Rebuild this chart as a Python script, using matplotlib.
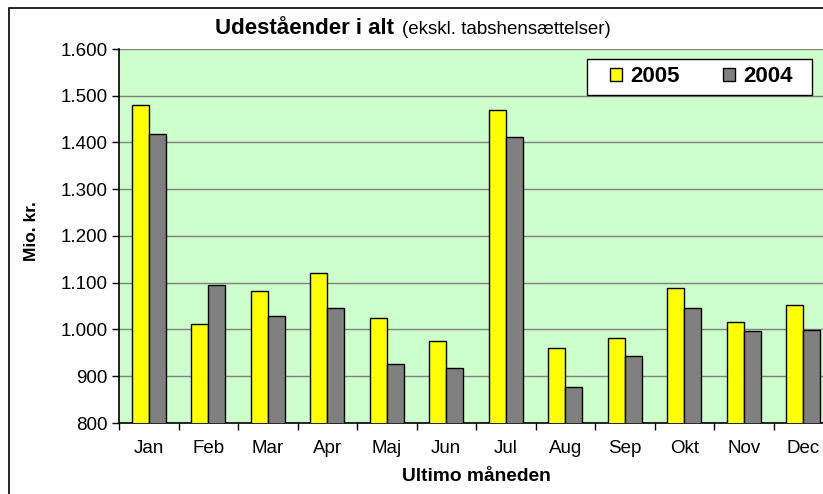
import matplotlib.pyplot as plt
import numpy as np
from matplotlib.patches import Rectangle
from matplotlib.ticker import FuncFormatter

plt.rcParams['font.family'] = ['Liberation Sans', 'DejaVu Sans']

months = ["Jan", "Feb", "Mar", "Apr", "Maj", "Jun", "Jul", "Aug", "Sep", "Okt", "Nov", "Dec"]
values_2005 = [1480, 1012, 1082, 1120, 1025, 975, 1470, 961, 982, 1089, 1015, 1053]
values_2004 = [1418, 1096, 1028, 1045, 926, 918, 1411, 878, 943, 1047, 997, 999]
yticks = [800, 900, 1000, 1100, 1200, 1300, 1400, 1500, 1600]

W, H = 823, 494
fig = plt.figure(figsize=(W / 100, H / 100), dpi=100)

# outer chart frame (runs off the right and bottom edge)
fig.patches.append(Rectangle((9 / W, -0.1), 1.2, 1 - 8 / H + 0.1, transform=fig.transFigure,
                             fill=False, edgecolor='black', linewidth=1.2))

left, right, top, bottom = 119, 833, 49, 423
ax = fig.add_axes([left / W, 1 - bottom / H, (right - left) / W, (bottom - top) / H])
ax.set_facecolor('#ccffcc')

x = np.arange(len(months))
bw = 0.285
ax.bar(x - bw / 2, values_2005, bw, color='#ffff00', edgecolor='black', linewidth=1,
       label='2005', zorder=3)
ax.bar(x + bw / 2, values_2004, bw, color='#808080', edgecolor='black', linewidth=1,
       label='2004', zorder=3)

ax.set_xlim(-0.5, len(months) - 0.5)
ax.set_ylim(800, 1600)
ax.set_yticks(yticks)
ax.yaxis.set_major_formatter(FuncFormatter(lambda v, p: f"{int(v):,}".replace(",", ".")))
ax.yaxis.grid(True, color='#808080', linewidth=1, zorder=1)

ax.set_xticks(x)
ax.set_xticklabels(months)
ax.set_xticks(np.arange(len(months) + 1) - 0.5, minor=True)
ax.tick_params(axis='x', which='major', length=0, pad=12, labelsize=13.5)
ax.tick_params(axis='x', which='minor', length=5, width=1)
ax.tick_params(axis='y', length=5, width=1, labelsize=13.5, pad=3)

for s in ['top', 'right']:
    ax.spines[s].set_visible(False)
for s in ['left', 'bottom']:
    ax.spines[s].set_color('black')
    ax.spines[s].set_linewidth(1.2)

ax.set_xlabel("Ultimo måneden", fontsize=13.8, fontweight='bold', labelpad=8)
fig.text(31 / W, 1 - 231 / H, "Mio. kr.", rotation=90, fontsize=12.5, fontweight='bold',
         ha='center', va='center')

fig.text(215 / W, 1 - 28 / H, "Udeståender i alt", fontsize=16, fontweight='bold',
         ha='left', va='center')
fig.text(402 / W, 1 - 29 / H, "(ekskl. tabshensættelser)", fontsize=13.5,
         ha='left', va='center')

# legend box drawn separately so its size is fixed
lx0, lx1, ly0, ly1 = 587, 812, 59, 95
to_ax = lambda px, py: ((px - left) / (right - left), 1 - (py - top) / (bottom - top))
bx, by = to_ax(lx0, ly1)
ax.add_patch(Rectangle((bx, by), (lx1 - lx0) / (right - left), (ly1 - ly0) / (bottom - top),
                       transform=ax.transAxes, facecolor='white', edgecolor='black',
                       linewidth=1, zorder=5))
leg = ax.legend(loc='center', bbox_to_anchor=to_ax((lx0 + lx1) / 2 + 2, (ly0 + ly1) / 2),
                ncol=2, frameon=False, prop={'weight': 'bold', 'size': 16},
                handlelength=0.55, handleheight=0.55, columnspacing=1.95,
                handletextpad=0.36, borderpad=0, borderaxespad=0)
leg.set_zorder(6)

fig.savefig("out.png", dpi=100)
